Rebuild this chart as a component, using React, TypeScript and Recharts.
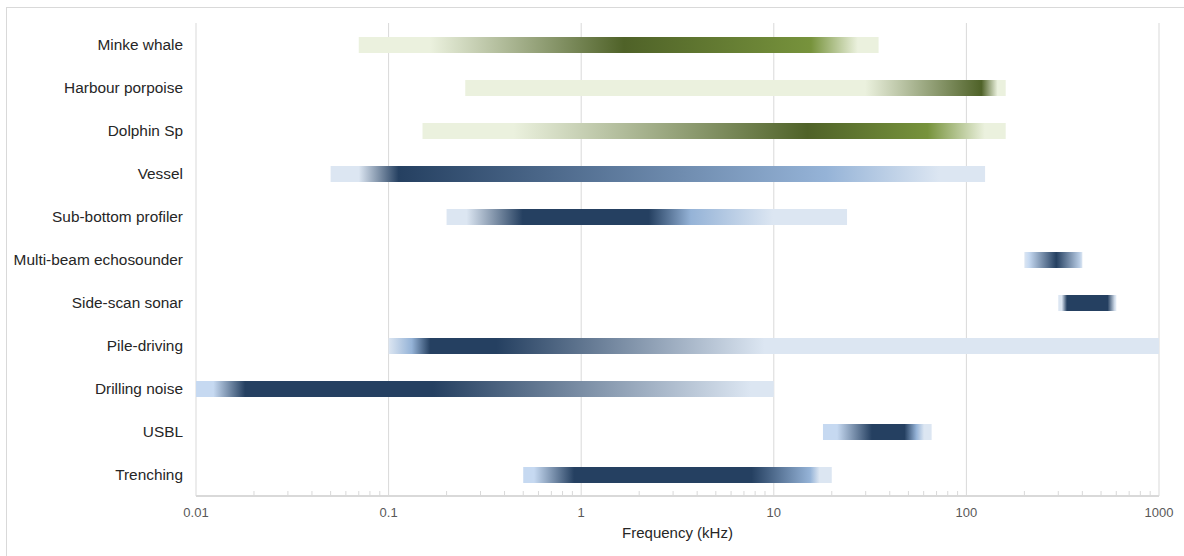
import React from 'react';
import { BarChart, Bar, XAxis, YAxis, CartesianGrid, Cell } from 'recharts';

const categories = [
  'Minke whale',
  'Harbour porpoise',
  'Dolphin Sp',
  'Vessel',
  'Sub-bottom profiler',
  'Multi-beam echosounder',
  'Side-scan sonar',
  'Pile-driving',
  'Drilling noise',
  'USBL',
  'Trenching',
];

// frequency range of each source, kHz
const lowFreq = [0.07, 0.25, 0.15, 0.05, 0.2, 200, 300, 0.1, 0.01, 18, 0.5];
const highFreq = [35, 160, 160, 125, 24, 400, 600, 1000, 10, 66, 20];

const majorTicks = [0.01, 0.1, 1, 10, 100, 1000];
const minorTicks = [
  0.02, 0.03, 0.04, 0.05, 0.06, 0.07, 0.08, 0.09,
  0.2, 0.3, 0.4, 0.5, 0.6, 0.7, 0.8, 0.9,
  2, 3, 4, 5, 6, 7, 8, 9,
  20, 30, 40, 50, 60, 70, 80, 90,
  200, 300, 400, 500, 600, 700, 800, 900,
];

// colours
const GL = '#EBF1DE';
const GD = '#4F6228';
const GB = '#77933C';
const BL = '#DCE6F2';
const BC = '#C6D9F1';
const BM = '#95B3D7';
const BN = '#254061';

// gradient stops per bar: [offset, colour]
const gradients: [number, string][][] = [
  [[0, GL], [0.137, GL], [0.51, GD], [0.87, GB], [0.96, GL], [1, GL]],
  [[0, GL], [0.74, GL], [0.955, GD], [0.985, GL], [1, GL]],
  [[0, GL], [0.156, GL], [0.66, GD], [0.866, GB], [0.964, GL], [1, GL]],
  [[0, BL], [0.043, BL], [0.104, BN], [0.757, BM], [0.93, BL], [1, BL]],
  [[0, BL], [0.05, BL], [0.19, BN], [0.505, BN], [0.61, BM], [0.815, BL], [1, BL]],
  [[0, BL], [0.08, BC], [0.55, BN], [0.95, '#B8CCE4'], [1, BL]],
  [[0, BL], [0.06, BL], [0.15, BN], [0.85, BN], [0.98, BL], [1, BL]],
  [[0, BL], [0.03, BM], [0.054, BN], [0.14, BN], [0.488, BL], [1, BL]],
  [[0, BC], [0.03, BC], [0.085, BN], [0.41, BN], [0.96, BL], [1, BL]],
  [[0, BC], [0.13, BC], [0.45, BN], [0.75, BN], [0.86, BM], [0.93, BL], [1, BL]],
  [[0, BC], [0.035, BC], [0.165, BN], [0.74, BN], [0.93, BM], [0.96, BL], [1, BL]],
];

const data = categories.map((name, i) => ({
  name,
  range: [lowFreq[i], highFreq[i]],
}));

const font = '"Liberation Sans", Arial, sans-serif';

const FreqTick = (props: any) => {
  const { x, y, payload } = props;
  const v = payload.value;
  if (majorTicks.includes(v)) {
    return (
      <text x={x} y={y + 16} dy="0.355em" textAnchor="middle" fontSize={13} fill="#595959" fontFamily={font}>
        {String(v)}
      </text>
    );
  }
  return <line x1={x} x2={x} y1={y} y2={y - 5} stroke="#D9D9D9" strokeWidth={1} />;
};

export default function App() {
  return (
    <div style={{ position: 'fixed', left: 0, top: 0, width: 1184, height: 556, overflow: 'hidden', background: '#fff' }}>
      <div
        style={{
          position: 'absolute',
          left: 6,
          top: 7,
          width: 1200,
          height: 600,
          border: '1px solid #D9D9D9',
        }}
      />
      <div style={{ position: 'absolute', left: 0, top: 0 }}>
        <BarChart
          width={1184}
          height={556}
          data={data}
          layout="vertical"
          margin={{ top: 23, right: 25, bottom: 0, left: 0 }}
          barSize={16}
        >
          <defs>
            {gradients.map((stops, i) => (
              <linearGradient key={i} id={`grad${i}`} x1="0" y1="0" x2="1" y2="0">
                {stops.map(([o, c], j) => (
                  <stop key={j} offset={o} stopColor={c} />
                ))}
              </linearGradient>
            ))}
          </defs>
          <CartesianGrid horizontal={false} stroke="#D9D9D9" verticalValues={majorTicks} />
          <XAxis
            type="number"
            dataKey="range"
            scale="log"
            domain={[0.01, 1000]}
            allowDataOverflow
            ticks={[...majorTicks, ...minorTicks]}
            interval={0}
            height={60}
            tickLine={false}
            tickSize={0}
            tickMargin={0}
            axisLine={{ stroke: '#D9D9D9', strokeWidth: 2 }}
            tick={<FreqTick />}
            label={{ value: 'Frequency (kHz)', position: 'insideBottom', offset: 18, fill: '#262626', fontSize: 15, fontFamily: font }}
          />
          <YAxis
            type="category"
            dataKey="name"
            width={196}
            tickLine={false}
            axisLine={false}
            tickSize={0}
            tickMargin={13}
            interval={0}
            tick={{ fontSize: 15.4, fill: '#262626', fontFamily: font }}
          />
          <Bar dataKey="range" isAnimationActive={false}>
            {data.map((d, i) => (
              <Cell key={d.name} fill={`url(#grad${i})`} />
            ))}
          </Bar>
        </BarChart>
      </div>
    </div>
  );
}
